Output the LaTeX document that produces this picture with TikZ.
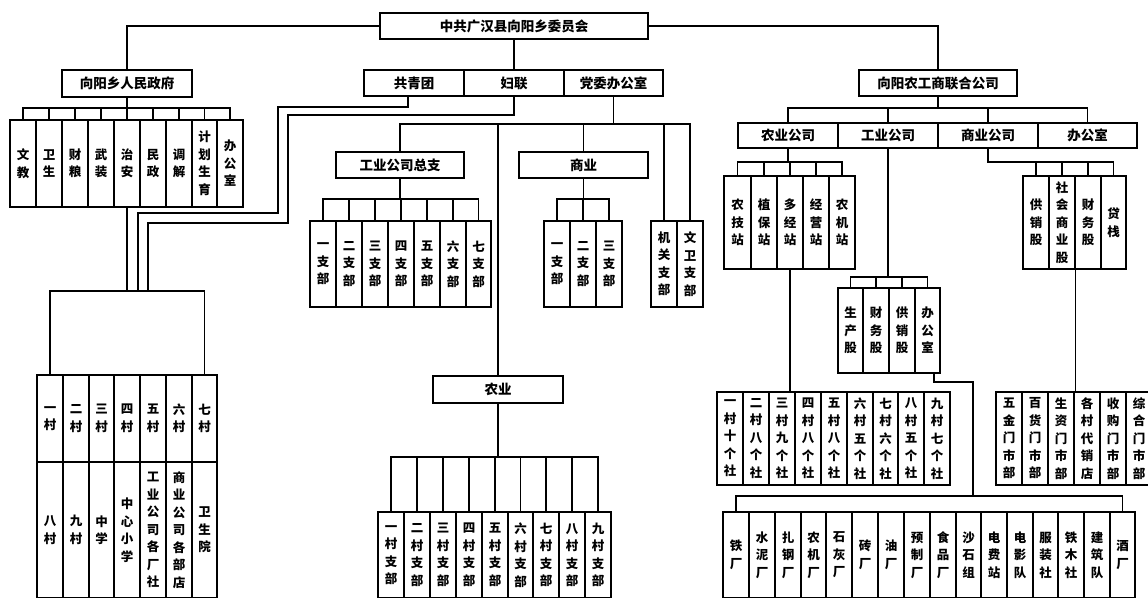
\documentclass[tikz,border=0pt]{standalone}
\usepackage{fontspec}
\setmainfont{Noto Sans CJK SC}
\def\Vgob#1{}
\def\Vkeep#1{#1}
\def\V#1{\Vloop#1\Vend}
\def\Vloop#1#2\Vend{#1\ifx\relax#2\relax\expandafter\Vgob\else\expandafter\Vkeep\fi{\\\Vloop#2\Vend}}
\tikzset{
  ln/.style={line width=1.3pt},
  vb/.style={draw, line width=1.3pt, inner sep=0pt, align=center, font=\fontsize{12.5}{17.5}\selectfont\bfseries},
  hb/.style={draw, line width=1.3pt, inner sep=0pt, font=\fontsize{13.5}{16}\selectfont\bfseries},
}
\newcommand\VB[6]{\node[vb, minimum width={#4-#2}, minimum height={#5-#3}] (#1) at ({(#2+#4)/2},{(#3+#5)/2}) {\V{#6}};}
\newcommand\HB[6]{\node[hb, minimum width={#4-#2}, minimum height={#5-#3}] (#1) at ({(#2+#4)/2},{(#3+#5)/2}) {#6};}
\begin{document}
\begin{tikzpicture}[x=1pt,y=-1pt]
\useasboundingbox (0,0) rectangle (1148,597);
\fill[white] (0,0) rectangle (1148,597);
\clip (0,0) rectangle (1148,597);
% ---------- top
\HB{top}{380}{13}{648}{39}{中共广汉县向阳乡委员会}
% ---------- left
\HB{gov}{62}{70}{192}{97}{向阳乡人民政府}
\VB{g1}{10}{120}{36}{207}{文教}
\VB{g2}{36}{120}{62}{207}{卫生}
\VB{g3}{62}{120}{88}{207}{财粮}
\VB{g4}{88}{120}{114}{207}{武装}
\VB{g5}{114}{120}{140}{207}{治安}
\VB{g6}{140}{120}{166}{207}{民政}
\VB{g7}{166}{120}{192}{207}{调解}
\VB{g8}{192}{120}{217}{207}{计划生育}
\VB{g9}{217}{120}{243}{207}{办公室}
\VB{v1}{37}{375}{63}{462}{一村}
\VB{v2}{63}{375}{89}{462}{二村}
\VB{v3}{89}{375}{114}{462}{三村}
\VB{v4}{114}{375}{140}{462}{四村}
\VB{v5}{140}{375}{166}{462}{五村}
\VB{v6}{166}{375}{192}{462}{六村}
\VB{v7}{192}{375}{217}{462}{七村}
\VB{w1}{37}{462}{63}{598}{八村}
\VB{w2}{63}{462}{89}{598}{九村}
\VB{w3}{89}{462}{114}{598}{中学}
\VB{w4}{114}{462}{140}{598}{中心小学}
\VB{w5}{140}{462}{166}{598}{工业公司各厂社}
\VB{w6}{166}{462}{192}{598}{商业公司各部店}
\VB{w7}{192}{462}{217}{598}{卫生院}
% ---------- middle
\HB{gqt}{364}{70}{464}{96}{共青团}
\HB{fl}{464}{70}{564}{96}{妇联}
\HB{dw}{564}{70}{663}{96}{党委办公室}
\HB{gyzz}{336}{152}{464}{178}{工业公司总支}
\HB{sy}{519}{152}{648}{178}{商业}
\VB{a1}{310}{221}{336}{307}{一支部}
\VB{a2}{336}{221}{362}{307}{二支部}
\VB{a3}{362}{221}{388}{307}{三支部}
\VB{a4}{388}{221}{414}{307}{四支部}
\VB{a5}{414}{221}{440}{307}{五支部}
\VB{a6}{440}{221}{466}{307}{六支部}
\VB{a7}{466}{221}{491}{307}{七支部}
\VB{b1}{544}{221}{570}{307}{一支部}
\VB{b2}{570}{221}{596}{307}{二支部}
\VB{b3}{596}{221}{622}{307}{三支部}
\VB{jg}{651}{221}{677}{307}{机关支部}
\VB{ww}{677}{221}{703}{307}{文卫支部}
\HB{ny}{433}{376}{563}{403}{农业}
\VB{m1}{378}{512}{404}{598}{一村支部}
\VB{m2}{404}{512}{430}{598}{二村支部}
\VB{m3}{430}{512}{456}{598}{三村支部}
\VB{m4}{456}{512}{482}{598}{四村支部}
\VB{m5}{482}{512}{508}{598}{五村支部}
\VB{m6}{508}{512}{533}{598}{六村支部}
\VB{m7}{533}{512}{559}{598}{七村支部}
\VB{m8}{559}{512}{585}{598}{八村支部}
\VB{m9}{585}{512}{611}{598}{九村支部}
% ---------- right
\HB{co}{859}{70}{1017}{96}{向阳农工商联合公司}
\HB{r1}{738}{123}{838}{148}{农业公司}
\HB{r2}{838}{123}{938}{148}{工业公司}
\HB{r3}{938}{123}{1038}{148}{商业公司}
\HB{r4}{1038}{123}{1137}{148}{办公室}
\VB{n1}{724}{176}{751}{269}{农技站}
\VB{n2}{751}{176}{777}{269}{植保站}
\VB{n3}{777}{176}{803}{269}{多经站}
\VB{n4}{803}{176}{829}{269}{经营站}
\VB{n5}{829}{176}{855}{269}{农机站}
\VB{k1}{838}{288}{863}{373}{生产股}
\VB{k2}{863}{288}{889}{373}{财务股}
\VB{k3}{889}{288}{915}{373}{供销股}
\VB{k4}{915}{288}{940}{373}{办公室}
\VB{s1}{1023}{176}{1049}{269}{供销股}
\VB{s2}{1049}{176}{1075}{269}{社会商业股}
\VB{s3}{1075}{176}{1101}{269}{财务股}
\VB{s4}{1101}{176}{1126}{269}{贷栈}
\VB{c1}{717}{392}{743}{485}{一村十个社}
\VB{c2}{743}{392}{769}{485}{二村八个社}
\VB{c3}{769}{392}{795}{485}{三村九个社}
\VB{c4}{795}{392}{821}{485}{四村八个社}
\VB{c5}{821}{392}{847}{485}{五村八个社}
\VB{c6}{847}{392}{873}{485}{六村五个社}
\VB{c7}{873}{392}{898}{485}{七村六个社}
\VB{c8}{898}{392}{924}{485}{八村五个社}
\VB{c9}{924}{392}{950}{485}{九村七个社}
\VB{p1}{996}{392}{1022}{485}{五金门市部}
\VB{p2}{1022}{392}{1048}{485}{百货门市部}
\VB{p3}{1048}{392}{1074}{485}{生资门市部}
\VB{p4}{1074}{392}{1100}{485}{各村代销店}
\VB{p5}{1100}{392}{1126}{485}{收购门市部}
\VB{p6}{1126}{392}{1152}{485}{综合门市部}
\VB{f1}{723}{512}{749}{598}{铁厂}
\VB{f2}{749}{512}{775}{598}{水泥厂}
\VB{f3}{775}{512}{801}{598}{扎钢厂}
\VB{f4}{801}{512}{826}{598}{农机厂}
\VB{f5}{826}{512}{852}{598}{石灰厂}
\VB{f6}{852}{512}{878}{598}{砖厂}
\VB{f7}{878}{512}{904}{598}{油厂}
\VB{f8}{904}{512}{930}{598}{预制厂}
\VB{f9}{930}{512}{956}{598}{食品厂}
\VB{f10}{956}{512}{981}{598}{沙石组}
\VB{f11}{981}{512}{1007}{598}{电费站}
\VB{f12}{1007}{512}{1033}{598}{电影队}
\VB{f13}{1033}{512}{1058}{598}{服装社}
\VB{f14}{1058}{512}{1084}{598}{铁木社}
\VB{f15}{1084}{512}{1110}{598}{建筑队}
\VB{f16}{1110}{512}{1135}{598}{酒厂}
% ---------- bus levels
\coordinate (yg) at (0,108);
\coordinate (ybrk) at (0,291);
\coordinate (yd) at (0,124);
\coordinate (ya) at (0,199);
\coordinate (ym) at (0,457);
\coordinate (yr) at (0,108);
\coordinate (yn) at (0,162);
\coordinate (yk) at (0,277);
\coordinate (gq1) at (278,107);
\coordinate (gq2) at (138,213);
\coordinate (gq3) at (138,291);
\coordinate (fl1) at (288,115);
\coordinate (fl2) at (148,223);
\coordinate (fl3) at (148,291);
\coordinate (fk1) at (973,382);
\coordinate (fk2) at (973,496);
% ---------- connectors
\draw[ln] (top.west) -| (gov.north);
\draw[ln] (top.east) -| (co.north);
\draw[ln] (top.south) -- (fl.north);
% left
\draw[ln] (gov.south) -- (gov.south |- yg);
\draw[ln] (g1.north) |- (g9.north |- yg) -- (g9.north);
\foreach \i in {2,...,8} \draw[ln] (g\i.north) -- (g\i.north |- yg);
\draw[ln] (g5.south) -- (g5.south |- ybrk);
\draw[ln] (v1.north) |- (v7.north |- ybrk) -- (v7.north);
\draw[ln] ([xshift=-6pt]gqt.south) |- (gq1) |- (gq2) -- (gq3);
\draw[ln] (fl.south) |- (fl1) |- (fl2) -- (fl3);
% middle
\draw[ln] (dw.south) -- (dw.south |- yd);
\draw[ln] (gyzz.north) |- (ww.north |- yd) -- (ww.north);
\foreach \n in {ny,sy,jg} \draw[ln] (\n.north) -- (\n.north |- yd);
\draw[ln] (gyzz.south) -- (gyzz.south |- ya);
\draw[ln] (a1.north) |- (a7.north |- ya) -- (a7.north);
\foreach \i in {2,...,6} \draw[ln] (a\i.north) -- (a\i.north |- ya);
\draw[ln] (sy.south) -- (sy.south |- ya);
\draw[ln] (b1.north) |- (b3.north |- ya) -- (b3.north);
\draw[ln] (b2.north) -- (b2.north |- ya);
\draw[ln] (ny.south) -- (ny.south |- ym);
\draw[ln] (m1.north) |- (m9.north |- ym) -- (m9.north);
\foreach \i in {2,...,8} \draw[ln] (m\i.north) -- (m\i.north |- ym);
% right
\draw[ln] (co.south) -- (co.south |- yr);
\draw[ln] (r1.north) |- (r4.north |- yr) -- (r4.north);
\foreach \n in {r2,r3} \draw[ln] (\n.north) -- (\n.north |- yr);
\draw[ln] (r1.south) -- (r1.south |- yn);
\draw[ln] (n1.north) |- (n5.north |- yn) -- (n5.north);
\foreach \i in {2,3,4} \draw[ln] (n\i.north) -- (n\i.north |- yn);
\draw[ln] (r2.south) -- (r2.south |- yk);
\draw[ln] (k1.north) |- (k4.north |- yk) -- (k4.north);
\foreach \i in {2,3} \draw[ln] (k\i.north) -- (k\i.north |- yk);
\draw[ln] (r3.south) |- (s4.north |- yn) -- (s4.north);
\foreach \i in {1,2,3} \draw[ln] (s\i.north) -- (s\i.north |- yn);
\draw[ln] (n3.south) -- (n3.south |- c1.north);
\draw[ln] (s2.south east) -- (s2.south east |- p1.north);
\draw[ln] ([xshift=6.5pt]k4.south) |- (fk1) -- (fk2);
\draw[ln] (f1.north) |- (f16.north |- fk2) -- (f16.north);
\end{tikzpicture}
\end{document}
